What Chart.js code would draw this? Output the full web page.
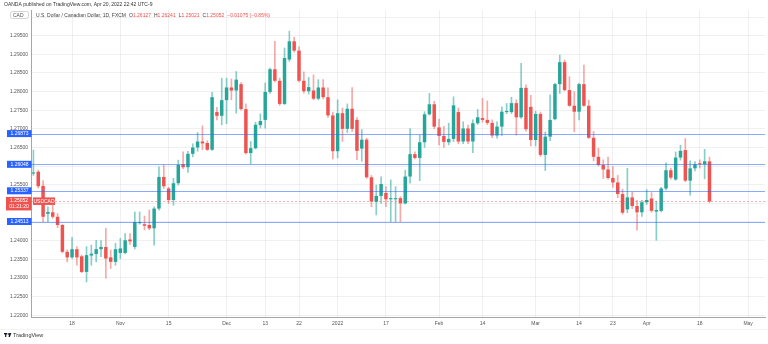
<!DOCTYPE html>
<html><head><meta charset="utf-8">
<script src="https://cdn.jsdelivr.net/npm/chart.js@4.4.1/dist/chart.umd.min.js"></script>
<style>html,body{margin:0;padding:0;background:#fff;overflow:hidden}canvas{display:block}</style>
</head><body>
<canvas id="c" width="768" height="344"></canvas>
<script>
// ---- data ----
const startDate = '2021-10-06';   // first visible daily bar
const slotCount = 152;            // bars + empty future slots up to early May
const opens = [1.2580,1.2585,1.2547,1.2472,1.2476,1.2464,1.2442,1.2370,1.2355,1.2377,
1.2358,1.2316,1.2360,1.2364,1.2377,1.2383,1.2355,1.2343,1.2367,1.2367,
1.2403,1.2383,1.2447,1.2444,1.2442,1.2433,1.2486,1.2571,1.2540,1.2509,
1.2554,1.2605,1.2597,1.2633,1.2650,1.2666,1.2662,1.2644,1.2745,1.2735,
1.2777,1.2811,1.2803,1.2820,1.2753,1.2635,1.2648,1.2710,1.2724,1.2799,
1.2860,1.2829,1.2767,1.2886,1.2935,1.2910,1.2829,1.2801,1.2803,1.2781,
1.2811,1.2785,1.2736,1.2640,1.2742,1.2700,1.2754,1.2724,1.2647,1.2671,
1.2570,1.2504,1.2520,1.2528,1.2511,1.2511,1.2514,1.2500,1.2572,1.2632,
1.2622,1.2664,1.2739,1.2766,1.2704,1.2681,1.2664,1.2673,1.2745,1.2666,
1.2701,1.2666,1.2715,1.2729,1.2724,1.2716,1.2682,1.2706,1.2745,1.2745,
1.2769,1.2731,1.2810,1.2759,1.2670,1.2740,1.2630,1.2679,1.2726,1.2820,
1.2879,1.2804,1.2762,1.2746,1.2820,1.2762,1.2676,1.2625,1.2603,1.2591,
1.2568,1.2556,1.2525,1.2484,1.2516,1.2493,1.2476,1.2503,1.2513,1.2478,
1.2480,1.2540,1.2589,1.2564,1.2623,1.2643,1.2561,1.2594,1.2607,1.2605,
1.26127];
const highs = [1.2643,1.2589,1.2561,1.2491,1.2495,1.2473,1.2444,1.2375,1.2409,1.2384,
1.2361,1.2384,1.2388,1.2401,1.2400,1.2433,1.2375,1.2393,1.2406,1.2419,
1.2419,1.2477,1.2477,1.2466,1.2482,1.2491,1.2598,1.2603,1.2543,1.2567,
1.2616,1.2638,1.2640,1.2660,1.2690,1.2708,1.2668,1.2798,1.2758,1.2836,
1.2836,1.2834,1.2854,1.2824,1.2767,1.2666,1.2718,1.2740,1.2823,1.2863,
1.2935,1.2836,1.2917,1.2962,1.2946,1.2920,1.2853,1.2838,1.2845,1.2832,
1.2832,1.2810,1.2745,1.2778,1.2756,1.2767,1.2811,1.2730,1.2698,1.2675,
1.2575,1.2549,1.2571,1.2545,1.2563,1.2545,1.2518,1.2589,1.2701,1.2638,
1.2683,1.2746,1.2795,1.2774,1.2726,1.2707,1.2715,1.2786,1.2756,1.2719,
1.2710,1.2724,1.2752,1.2782,1.2775,1.2724,1.2719,1.2759,1.2768,1.2785,
1.2778,1.2876,1.2818,1.2790,1.2747,1.2745,1.2692,1.2791,1.2822,1.2898,
1.2885,1.2840,1.2800,1.2822,1.2871,1.2777,1.2693,1.2648,1.2617,1.2624,
1.2599,1.2575,1.2538,1.2594,1.2530,1.2508,1.2508,1.2537,1.2529,1.2506,
1.2543,1.2609,1.2595,1.2638,1.2656,1.2674,1.2614,1.2612,1.2617,1.2645,
1.26241];
const lows = [1.2575,1.2541,1.2450,1.2450,1.2460,1.2435,1.2367,1.2343,1.2352,1.2334,
1.2314,1.2289,1.2334,1.2343,1.2357,1.2299,1.2325,1.2334,1.2352,1.2364,
1.2390,1.2378,1.2444,1.2429,1.2429,1.2388,1.2482,1.2540,1.2500,1.2495,
1.2549,1.2593,1.2583,1.2625,1.2640,1.2644,1.2642,1.2642,1.2724,1.2711,
1.2714,1.2778,1.2742,1.2750,1.2632,1.2606,1.2646,1.2702,1.2702,1.2795,
1.2826,1.2763,1.2765,1.2881,1.2906,1.2826,1.2796,1.2793,1.2778,1.2778,
1.2780,1.2731,1.2619,1.2622,1.2666,1.2690,1.2693,1.2617,1.2613,1.2567,
1.2491,1.2469,1.2500,1.2491,1.2451,1.2451,1.2451,1.2498,1.2554,1.2619,
1.2561,1.2650,1.2737,1.2700,1.2657,1.2650,1.2657,1.2666,1.2660,1.2660,
1.2660,1.2636,1.2712,1.2718,1.2711,1.2676,1.2675,1.2682,1.2741,1.2741,
1.2683,1.2728,1.2694,1.2654,1.2654,1.2626,1.2588,1.2668,1.2724,1.2795,
1.2802,1.2760,1.2692,1.2724,1.2760,1.2674,1.2614,1.2600,1.2567,1.2565,
1.2543,1.2515,1.2471,1.2475,1.2486,1.2428,1.2465,1.2497,1.2476,1.2401,
1.2477,1.2536,1.2565,1.2562,1.2616,1.2558,1.2522,1.2587,1.2595,1.2566,
1.25021];
const closes = [1.2583,1.2546,1.2464,1.2477,1.2464,1.2442,1.2370,1.2355,1.2377,1.2355,
1.2316,1.2361,1.2365,1.2377,1.2383,1.2352,1.2343,1.2377,1.2379,1.2401,
1.2398,1.2450,1.2450,1.2440,1.2433,1.2486,1.2571,1.2546,1.2509,1.2554,
1.2603,1.2597,1.2633,1.2650,1.2666,1.2661,1.2644,1.2785,1.2735,1.2777,
1.2811,1.2803,1.2832,1.2753,1.2635,1.2648,1.2711,1.2721,1.2799,1.2860,
1.2829,1.2767,1.2890,1.2935,1.2910,1.2829,1.2801,1.2812,1.2781,1.2811,
1.2785,1.2736,1.2640,1.2742,1.2700,1.2754,1.2700,1.2641,1.2671,1.2570,
1.2505,1.2520,1.2552,1.2511,1.2514,1.2514,1.2500,1.2572,1.2632,1.2622,
1.2664,1.2739,1.2766,1.2706,1.2681,1.2665,1.2673,1.2763,1.2666,1.2701,
1.2666,1.2715,1.2731,1.2724,1.2716,1.2682,1.2706,1.2746,1.2748,1.2769,
1.2731,1.2810,1.2699,1.2670,1.2740,1.2630,1.2679,1.2724,1.2820,1.2879,
1.2804,1.2762,1.2746,1.2820,1.2762,1.2676,1.2625,1.2603,1.2591,1.2568,
1.2556,1.2525,1.2475,1.2516,1.2493,1.2476,1.2503,1.2509,1.2480,1.2482,
1.2540,1.2589,1.2569,1.2623,1.2641,1.2561,1.2594,1.2605,1.2605,1.2613,
1.25052];
const tickDates = ['2021-10-18','2021-11-01','2021-11-15','2021-12-01','2021-12-13','2021-12-22',
  '2022-01-03','2022-01-17','2022-02-01','2022-02-14','2022-03-01','2022-03-14','2022-03-23',
  '2022-04-01','2022-04-18','2022-05-02'];
const tickTexts = ['18','Nov','15','Dec','13','22','2022','17','Feb','14','Mar','14','23','Apr','18','May'];
const levelValues = [1.26873, 1.26048, 1.25337, 1.24513];
const lastPrice = 1.25052;
const countdown = '01:21:20';
const yMin = 1.2195, yMax = 1.3019, yStep = 0.005;
const headerTop = 'OANDA published on TradingView.com, Apr 20, 2022 22:42 UTC-9';
const headerTitle = 'U.S. Dollar / Canadian Dollar, 1D, FXCM';
const ohlcParts = [['O','1.26127'],['H','1.26241'],['L','1.25021'],['C','1.25052'],['','\u22120.01075 (\u22120.85%)']];

// ---- helpers ----
function tradingDays(start, n){
  const out = []; const d = new Date(start + 'T00:00:00Z');
  while (out.length < n){ const w = d.getUTCDay(); if (w !== 0 && w !== 6) out.push(d.toISOString().slice(0,10)); d.setUTCDate(d.getUTCDate()+1); }
  return out;
}
const UP = '#26a69a', DOWN = '#ef5350';
const UPW = 'rgba(38,166,154,0.55)', DOWNW = 'rgba(239,83,80,0.5)';
const FONT = '"Liberation Sans", Arial, sans-serif';
const labels = tradingDays(startDate, slotCount);
const n = opens.length;
const bodyData = labels.map((_, i) => i < n ? [opens[i], closes[i]] : null);
const wickData = labels.map((_, i) => i < n ? [lows[i], highs[i]] : null);
const isUp = i => closes[i] >= opens[i];
const tickIndex = tickDates.map(d => labels.indexOf(d));
const GRID = 'rgba(42,46,57,0.07)';

const overlay = {
  id: 'overlay',
  afterDatasetsDraw(chart){
    const {ctx, chartArea: a, scales: {y}} = chart;
    ctx.save();
    ctx.lineWidth = 1;
    ctx.strokeStyle = 'rgba(239,83,80,0.45)';
    ctx.setLineDash([2,2]);
    const yl = Math.round(y.getPixelForValue(lastPrice)) + 0.5;
    ctx.beginPath(); ctx.moveTo(a.left, yl); ctx.lineTo(a.right, yl); ctx.stroke();
    ctx.setLineDash([]);
    ctx.strokeStyle = 'rgba(41,98,255,0.55)';
    levelValues.forEach(v => {
      const yy = Math.round(y.getPixelForValue(v)) + 0.5;
      ctx.beginPath(); ctx.moveTo(a.left, yy); ctx.lineTo(a.right, yy); ctx.stroke();
    });
    ctx.restore();
  },
  afterDraw(chart){
    const {ctx, chartArea: a, scales: {y}} = chart;
    ctx.save();
    ctx.font = '5px ' + FONT;
    ctx.textBaseline = 'middle';
    ctx.textAlign = 'center';
    // level labels on the price axis
    levelValues.forEach(v => {
      const yy = y.getPixelForValue(v);
      ctx.fillStyle = '#2962ff';
      ctx.fillRect(7, yy - 3.5, 24.5, 7);
      ctx.fillStyle = '#ffffff';
      ctx.fillText(v.toFixed(5), 19.5, yy + 0.3);
    });
    // last price box
    const yl = y.getPixelForValue(lastPrice);
    ctx.fillStyle = DOWN;
    ctx.fillRect(6, yl - 4.5, 25.5, 13.5);
    ctx.fillStyle = '#ffffff';
    ctx.fillText(lastPrice.toFixed(5), 19, yl - 0.5);
    ctx.fillText(countdown, 19, yl + 5.5);
    // series tag
    ctx.fillStyle = DOWN;
    ctx.fillRect(a.left + 2, yl - 4, 22, 7.5);
    ctx.fillStyle = '#ffffff';
    ctx.fillText('USDCAD', a.left + 13, yl);
    // header
    ctx.textAlign = 'left';
    ctx.fillStyle = '#333';
    ctx.font = '5px ' + FONT;
    ctx.fillText(headerTop, 4, 5);
    ctx.strokeStyle = '#c8c8c8';
    ctx.lineWidth = 0.8;
    ctx.beginPath(); ctx.roundRect ? ctx.roundRect(10.5, 11.5, 18, 7, 2) : ctx.rect(10.5, 11.5, 18, 7); ctx.stroke();
    ctx.fillStyle = '#555';
    ctx.fillText('CAD', 13, 15.2);
    let x = 36;
    ctx.fillStyle = '#444';
    ctx.fillText(headerTitle, x, 15.2);
    x += ctx.measureText(headerTitle).width + 3;
    ohlcParts.forEach(([k, v]) => {
      if (k){ ctx.fillStyle = '#444'; ctx.fillText(k, x, 15.2); x += ctx.measureText(k).width; }
      ctx.fillStyle = DOWN; ctx.fillText(v, x, 15.2); x += ctx.measureText(v).width + 3;
    });
    // bottom separator and logo
    ctx.strokeStyle = 'rgba(42,46,57,0.08)';
    ctx.beginPath(); ctx.moveTo(0, 329.5); ctx.lineTo(768, 329.5); ctx.stroke();
    ctx.fillStyle = '#131722';
    ctx.fillRect(4, 333, 3.2, 1.4);
    ctx.fillRect(5.1, 333, 1.2, 4);
    ctx.beginPath(); ctx.arc(8.4, 334, 0.8, 0, Math.PI*2); ctx.fill();
    ctx.beginPath(); ctx.moveTo(9.2, 333); ctx.lineTo(11.4, 333); ctx.lineTo(9.8, 337); ctx.lineTo(8.6, 337); ctx.closePath(); ctx.fill();
    ctx.fillStyle = '#333';
    ctx.font = '5.5px ' + FONT;
    ctx.fillText('TradingView', 13, 335.2);
    ctx.restore();
  }
};

new Chart(document.getElementById('c'), {
  type: 'bar',
  data: {
    labels,
    datasets: [
      { data: bodyData, backgroundColor: c => isUp(c.dataIndex) ? UP : DOWN,
        barPercentage: 0.72, categoryPercentage: 1, grouped: false, order: 0, minBarLength: 1 },
      { data: wickData, backgroundColor: c => isUp(c.dataIndex) ? UPW : DOWNW,
        barThickness: 1, grouped: false, order: 1 }
    ]
  },
  options: {
    responsive: false, animation: false, devicePixelRatio: 1,
    layout: { padding: { top: 10, bottom: 14, right: 3, left: 0 } },
    plugins: { legend: { display: false }, tooltip: { enabled: false } },
    scales: {
      x: {
        grid: { offset: false, drawTicks: false, color: c => tickIndex.includes(c.index) ? GRID : 'rgba(0,0,0,0)' },
        border: { color: '#a3a6af' },
        ticks: { autoSkip: false, maxRotation: 0, minRotation: 0, padding: 4, color: '#555',
          font: { size: 5, family: FONT },
          callback: (v, i) => { const k = tickIndex.indexOf(i); return k >= 0 ? tickTexts[k] : ''; } },
        afterFit: s => { s.height = 13; }
      },
      y: {
        position: 'left', min: yMin, max: yMax,
        grid: { drawTicks: false, color: GRID },
        border: { color: '#a3a6af' },
        ticks: { stepSize: yStep, includeBounds: false, padding: 3, color: '#555',
          font: { size: 5, family: FONT },
          callback: v => v > 1.2975 ? '' : Number(v).toFixed(5) },
        afterFit: s => { s.width = 31; }
      }
    }
  },
  plugins: [overlay]
});
</script>
</body></html>
